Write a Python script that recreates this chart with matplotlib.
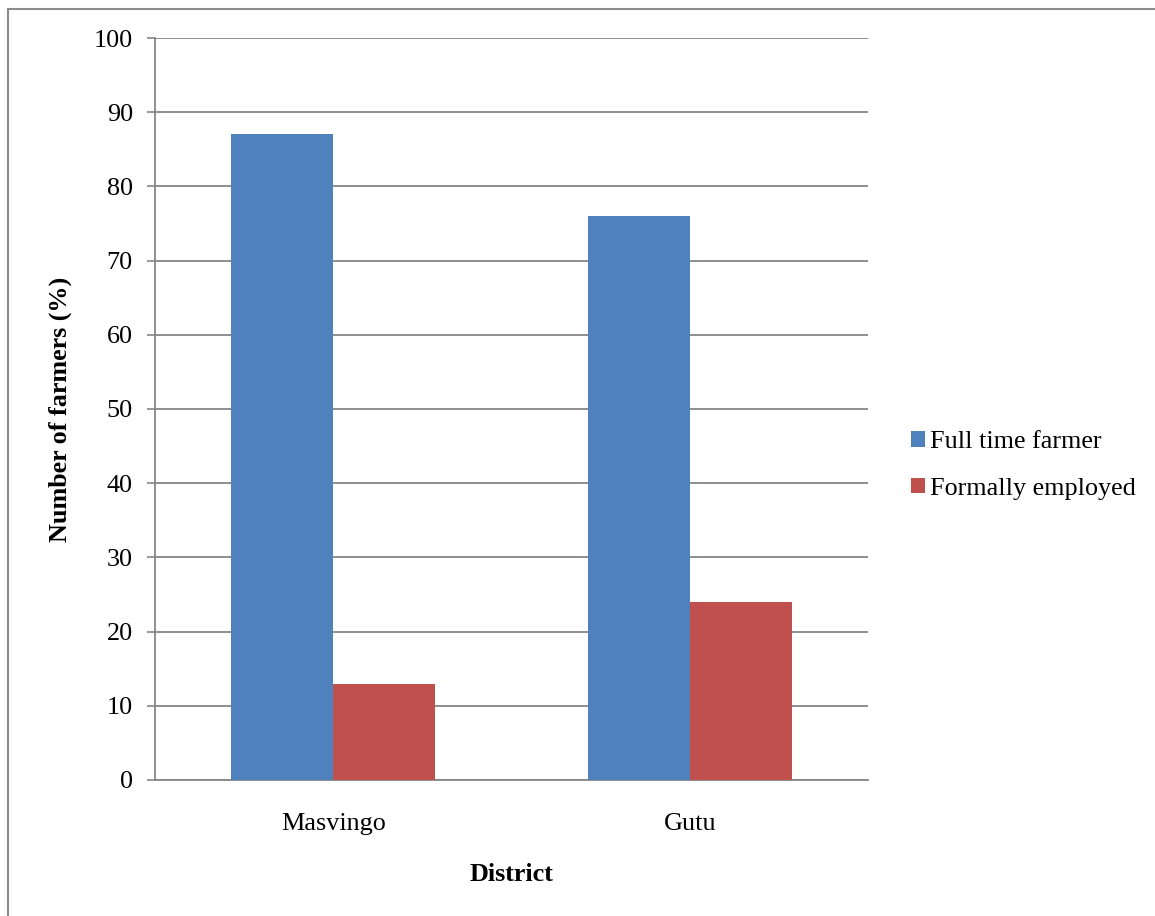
import matplotlib
matplotlib.use("Agg")
import matplotlib.pyplot as plt
from matplotlib.patches import Rectangle
import numpy as np

districts = ["Masvingo", "Gutu"]
series_names = ["Full time farmer", "Formally employed"]
full_time = [87, 76]
formally_employed = [13, 24]
y_ticks = [0, 10, 20, 30, 40, 50, 60, 70, 80, 90, 100]

colors = ["#4F81BD", "#C0504D"]
grid_color = "#868686"
fs = 18.8

plt.rcParams["font.family"] = ["Liberation Serif", "DejaVu Serif"]

fig = plt.figure(figsize=(11.55, 9.16), dpi=100)
ax = fig.add_axes([0.1342, 0.1485, 0.6173, 0.81])

# outer frame of the chart area
fig.patches.append(Rectangle((8 / 1155, -0.05), 1.2, 1 - 9.5 / 916 + 0.05,
                             transform=fig.transFigure, fill=False,
                             edgecolor="#8c8c8c", linewidth=1.5, zorder=0))

x = np.arange(len(districts))
w = 0.286
ax.bar(x - w / 2, full_time, width=w, color=colors[0], label=series_names[0], zorder=3)
ax.bar(x + w / 2, formally_employed, width=w, color=colors[1], label=series_names[1], zorder=3)

ax.set_xlim(-0.5, 1.5)
ax.set_ylim(0, 100)
ax.set_yticks(y_ticks)
ax.set_xticks(x)
ax.set_xticklabels(districts)
ax.tick_params(axis="y", length=6, width=1.2, color=grid_color, labelsize=fs, pad=10)
ax.tick_params(axis="x", length=0, labelsize=fs, pad=24)

ax.yaxis.grid(True, color=grid_color, linewidth=1.3, zorder=0)
ax.set_axisbelow(True)
for s in ["top", "right"]:
    ax.spines[s].set_visible(False)
for s in ["left", "bottom"]:
    ax.spines[s].set_color(grid_color)
    ax.spines[s].set_linewidth(1.3)

ax.set_ylabel("Number of farmers (%)", fontsize=fs, fontweight="bold")
ax.yaxis.set_label_coords(-0.116, 0.5)
ax.set_xlabel("District", fontsize=fs, fontweight="bold", labelpad=20)

fig.legend(loc="center left", bbox_to_anchor=(0.7794, 0.492),
           bbox_transform=fig.transFigure, frameon=False, fontsize=fs,
           handlelength=0.55, handleheight=0.55, handletextpad=0.2,
           labelspacing=0.95, borderaxespad=0)

fig.savefig("out.png", dpi=100)
